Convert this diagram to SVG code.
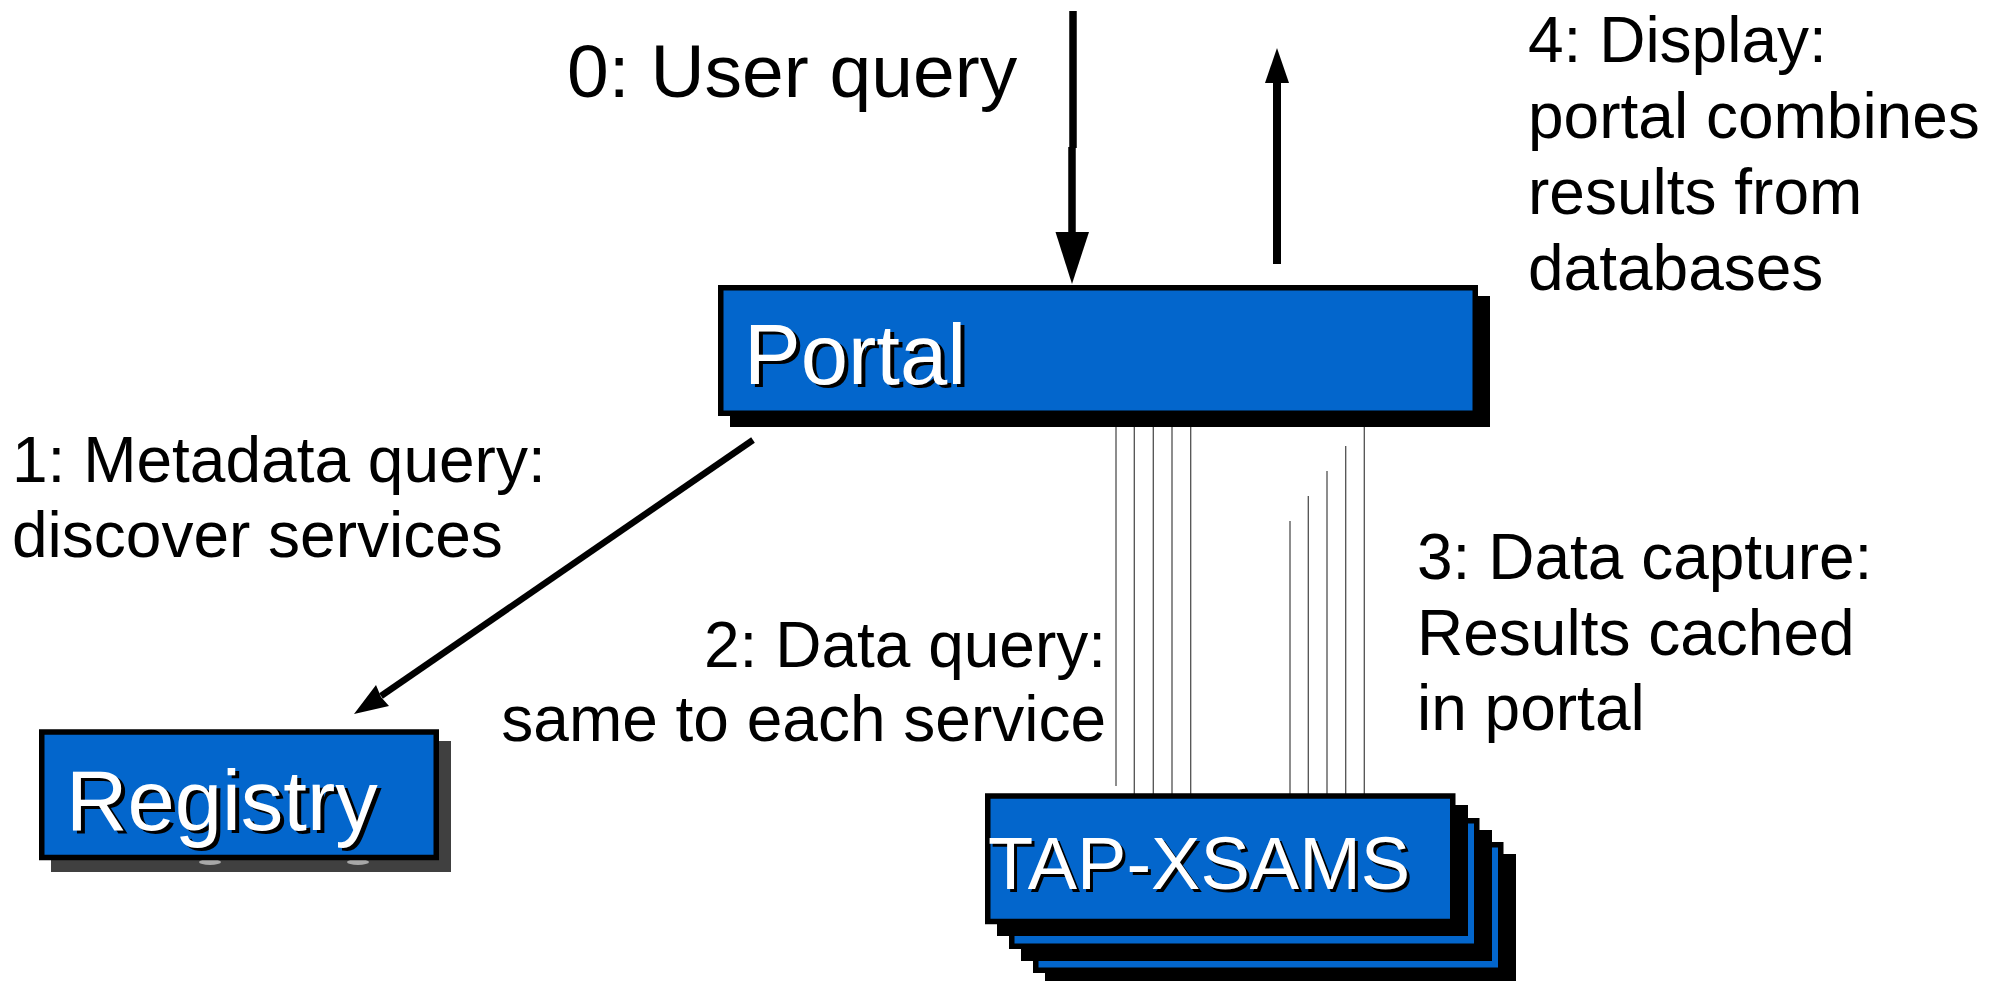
<svg xmlns="http://www.w3.org/2000/svg" width="1991" height="981" viewBox="0 0 1991 981">
  <style>
    .box { fill: #0366cc; stroke: #000; stroke-width: 5.5; }
    .shadow { fill: #000; }
    .shadow-grey { fill: #404040; }
    .title { font-family: "Liberation Sans", Arial, sans-serif; fill: #fff; }
    .title-shade { font-family: "Liberation Sans", Arial, sans-serif; fill: #000; }
    .label { font-family: "Liberation Sans", Arial, sans-serif; font-size: 64px; fill: #000; }
    .label-big { font-size: 75px; }
    .thick { stroke: #000; fill: none; stroke-linecap: butt; }
    .head { fill: #000; }
    .wire { stroke: #505050; stroke-width: 1.3; fill: none; }
  </style>

  <rect width="1991" height="981" fill="#fff"/>

  <!-- connectors -->
  <g id="connectors">
    <!-- step 2/3 data lines between portal and services -->
    <line class="wire" x1="1116" y1="416" x2="1116" y2="786"/>
    <line class="wire" x1="1134.3" y1="416" x2="1134.3" y2="796"/>
    <line class="wire" x1="1153.3" y1="416" x2="1153.3" y2="796"/>
    <line class="wire" x1="1172" y1="416" x2="1172" y2="796"/>
    <line class="wire" x1="1190.7" y1="416" x2="1190.7" y2="796"/>
    <line class="wire" x1="1290" y1="521" x2="1290" y2="796"/>
    <line class="wire" x1="1308.3" y1="496" x2="1308.3" y2="796"/>
    <line class="wire" x1="1327" y1="471" x2="1327" y2="796"/>
    <line class="wire" x1="1345.7" y1="446" x2="1345.7" y2="796"/>
    <line class="wire" x1="1364.3" y1="416" x2="1364.3" y2="796"/>

    <!-- 0: user query into portal -->
    <line class="thick" x1="1073" y1="11" x2="1073" y2="148" stroke-width="7.5"/>
    <line class="thick" x1="1072" y1="147" x2="1072" y2="236" stroke-width="7.5"/>
    <polygon class="head" points="1055.5,232 1089,232 1072,284"/>

    <!-- 4: display out of portal -->
    <line class="thick" x1="1277" y1="264" x2="1277" y2="80" stroke-width="8"/>
    <polygon class="head" points="1265,83 1289,83 1277,48"/>

    <!-- 1: metadata query to registry -->
    <line class="thick" x1="753" y1="440" x2="381" y2="696" stroke-width="6.5"/>
    <polygon class="head" points="354,714 376,685 381,697 389,706"/>
  </g>

  <!-- Portal -->
  <g id="portal">
    <rect class="shadow" x="730" y="296" width="760" height="131"/>
    <rect class="box" x="720.75" y="287.75" width="754.5" height="125.5"/>
    <text class="title-shade" x="748" y="387" font-size="85">Portal</text>
    <text class="title" x="744" y="384" font-size="85">Portal</text>
  </g>

  <!-- Registry -->
  <g id="registry">
    <rect class="shadow-grey" x="51" y="741" width="400" height="131"/>
    <ellipse cx="210" cy="862" rx="11" ry="3" fill="#a8a8a8"/>
    <ellipse cx="358" cy="862" rx="11" ry="3" fill="#a8a8a8"/>
    <rect class="box" x="41.75" y="732" width="394.5" height="125.5"/>
    <text class="title-shade" x="70" y="833" font-size="85">Registry</text>
    <text class="title" x="66" y="830" font-size="85">Registry</text>
  </g>

  <!-- TAP-XSAMS services (stacked) -->
  <g id="tap-xsams">
    <rect class="shadow" x="1045" y="854" width="471" height="131"/>
    <rect class="box" x="1035.75" y="844.75" width="465" height="125.5"/>
    <rect class="shadow" x="1021" y="830" width="471" height="131"/>
    <rect class="box" x="1011.75" y="820.75" width="465" height="125.5"/>
    <rect class="shadow" x="997" y="805" width="471" height="131"/>
    <rect class="box" x="987.75" y="796" width="465" height="125.5"/>
    <text class="title-shade" x="991" y="892" font-size="74">TAP-XSAMS</text>
    <text class="title" x="988" y="889" font-size="74">TAP-XSAMS</text>
  </g>

  <!-- step labels -->
  <g id="label-0">
    <text class="label label-big" x="567" y="97">0: User query</text>
  </g>
  <g id="label-1">
    <text class="label" x="12" y="482">1: Metadata query:</text>
    <text class="label" x="12" y="557">discover services</text>
  </g>
  <g id="label-2">
    <text class="label" x="1106" y="667" text-anchor="end">2: Data query:</text>
    <text class="label" x="1106" y="741" text-anchor="end">same to each service</text>
  </g>
  <g id="label-3">
    <text class="label" x="1417" y="579">3: Data capture:</text>
    <text class="label" x="1417" y="655">Results cached</text>
    <text class="label" x="1417" y="730">in portal</text>
  </g>
  <g id="label-4">
    <text class="label" x="1528" y="62">4: Display:</text>
    <text class="label" x="1528" y="138">portal combines</text>
    <text class="label" x="1528" y="214">results from</text>
    <text class="label" x="1528" y="290">databases</text>
  </g>
</svg>
